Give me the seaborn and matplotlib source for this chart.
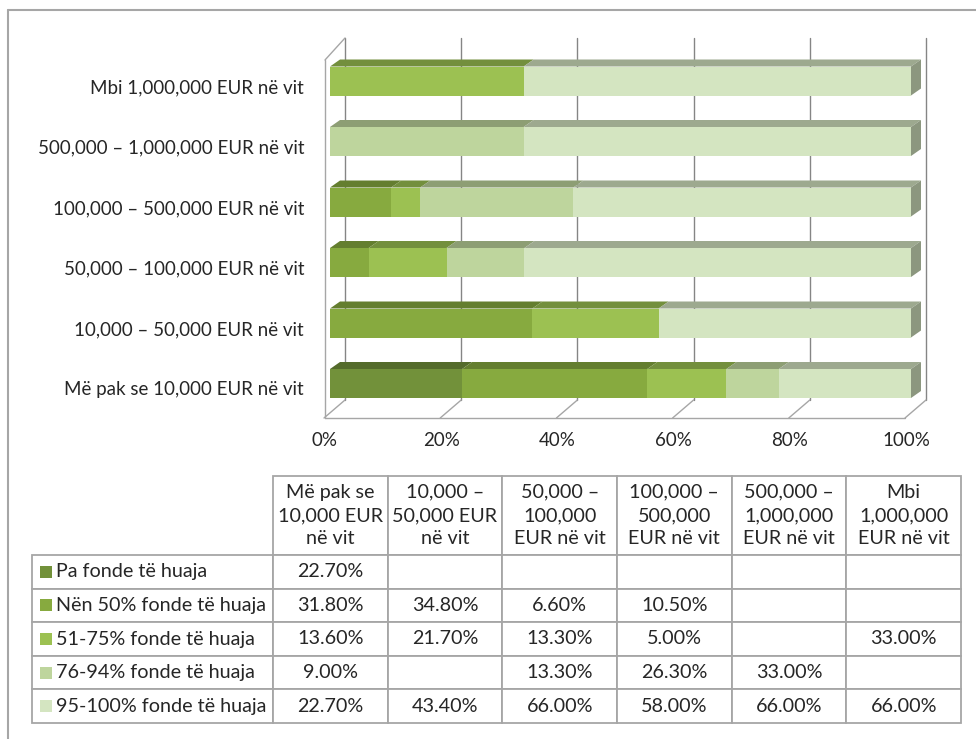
import numpy as np
import pandas as pd
import matplotlib
matplotlib.use("Agg")
import matplotlib.pyplot as plt
import matplotlib.colors as mcolors
import seaborn as sns
from matplotlib.patches import Polygon, Rectangle
from matplotlib.lines import Line2D
from matplotlib.table import Table
from matplotlib.transforms import ScaledTranslation

# data (table order, left to right)
categories = ["Më pak se 10,000 EUR në vit", "10,000 – 50,000 EUR në vit",
              "50,000 – 100,000 EUR në vit", "100,000 – 500,000 EUR në vit",
              "500,000 – 1,000,000 EUR në vit", "Mbi 1,000,000 EUR në vit"]
col_headers = ["Më pak se\n10,000 EUR\nnë vit", "10,000 –\n50,000 EUR\nnë vit",
               "50,000 –\n100,000\nEUR në vit", "100,000 –\n500,000\nEUR në vit",
               "500,000 –\n1,000,000\nEUR në vit", "Mbi\n1,000,000\nEUR në vit"]
series_names = ["Pa fonde të huaja", "Nën 50% fonde të huaja", "51-75% fonde të huaja",
                "76-94% fonde të huaja", "95-100% fonde të huaja"]
pa_fonde = [22.7, None, None, None, None, None]
nen_50 = [31.8, 34.8, 6.6, 10.5, None, None]
p51_75 = [13.6, 21.7, 13.3, 5.0, None, 33.0]
p76_94 = [9.0, None, 13.3, 26.3, 33.0, None]
p95_100 = [22.7, 43.4, 66.0, 58.0, 66.0, 66.0]
x_ticks = [0, 20, 40, 60, 80, 100]

colors = ["#72913a", "#87aa3f", "#9cc152", "#bed59d", "#d4e5c1"]
TEXT = "#262626"
GRID = "#858585"
FLOOR = "#a6a6a6"

series_vals = [pa_fonde, nen_50, p51_75, p76_94, p95_100]
df = pd.DataFrame(dict(zip(series_names, series_vals)), index=categories).astype(float)
shares = df.fillna(0)
norm = shares.div(shares.sum(axis=1), axis=0) * 100   # 100% stacked
cum = norm.cumsum(axis=1)
plot_order = categories[::-1]   # "Mbi ..." on top

sns.set_style("white")
plt.rcParams["font.family"] = ["Lato", "DejaVu Sans"]
FS = 13.5
FS_TABLE = 14.2

W, H = 976, 739
fig = plt.figure(figsize=(W / 100, H / 100), dpi=100)


def fx(px):
    return px / W


def fy(py):
    return 1 - py / H


# pixel -> data helpers for the fake 3D frame
X0, PXU = 330, 5.81          # px of 0 %, px per percent
Y0, PYU = 81, 60.5           # px of first bar centre, px per category


def dx(px):
    return px / PXU


def p(py):
    return (py - Y0) / PYU


BAR_H = 29 / PYU
DX, DY = dx(10), 7 / PYU

ax = fig.add_axes([fx(320), fy(420), fx(940) - fx(320), fy(36) - fy(420)])

for k in reversed(range(len(series_names))):
    sns.barplot(x=cum.iloc[:, k].reindex(plot_order).values, y=plot_order, order=plot_order,
                orient="h", color=colors[k], saturation=1, width=BAR_H, linewidth=0,
                errorbar=None, ax=ax, zorder=2)


def shade(c, f):
    return tuple(np.clip(np.array(mcolors.to_rgb(c)) * f, 0, 1))


# top faces and end caps
for i, cat in enumerate(plot_order):
    top = i - BAR_H / 2
    left = 0.0
    for k in range(len(series_names)):
        w = norm.loc[cat].iloc[k]
        if w > 0:
            ax.add_patch(Polygon([(left, top), (left + w, top), (left + w + DX, top - DY),
                                  (left + DX, top - DY)], closed=True,
                                 fc=shade(colors[k], 0.74), ec="none", zorder=2, clip_on=False))
        left += w
    ax.add_patch(Polygon([(left, top), (left + DX, top - DY), (left + DX, top + BAR_H - DY),
                          (left, top + BAR_H)], closed=True,
                         fc=shade(colors[-1], 0.66), ec="none", zorder=2, clip_on=False))

# back gridlines, floor and left wall
for v in x_ticks:
    ax.plot([v + dx(15)] * 2, [p(400), p(38)], color=GRID, lw=1, zorder=0.5, clip_on=False)
    ax.plot([v + dx(15), v - dx(6)], [p(400), p(418)], color=FLOOR, lw=1, zorder=0.5,
            clip_on=False)
ax.plot([-dx(5), x_ticks[-1] - dx(6)], [p(418)] * 2, color=FLOOR, lw=1, zorder=0.5, clip_on=False)
ax.plot([-dx(5)] * 2, [p(418), p(60)], color=FLOOR, lw=1, zorder=0.5, clip_on=False)
ax.plot([-dx(5), dx(15)], [p(60), p(38)], color=FLOOR, lw=1, zorder=0.5, clip_on=False)

ax.set_xlim(dx(320 - X0), dx(940 - X0))
ax.set_ylim(p(420), p(36))
ax.set_xticks(x_ticks)
ax.set_xticklabels([f"{v}%" for v in x_ticks], fontsize=FS, color=TEXT)
ax.set_yticks(range(len(plot_order)))
ax.set_yticklabels(plot_order, fontsize=FS, color=TEXT)
ax.tick_params(axis="x", length=0, pad=9)
ax.tick_params(axis="y", length=0, pad=11.5)
ax.set_xlabel("")
ax.set_ylabel("")
for s in ax.spines.values():
    s.set_visible(False)
for lbl in ax.get_xticklabels():
    lbl.set_transform(lbl.get_transform() + ScaledTranslation(-5 / 100, 0, fig.dpi_scale_trans))
for lbl in ax.get_yticklabels():
    lbl.set_transform(lbl.get_transform() + ScaledTranslation(0, -5 / 100, fig.dpi_scale_trans))

# data table
TL, TR, TT, TB = 32, 961, 476, 723
HEAD_H, ROW_H = 79, 33.6
LABEL_W = 273 - TL
DATA_W = (TR - 273) / 6
ax_t = fig.add_axes([fx(TL), fy(TB), fx(TR) - fx(TL), fy(TT) - fy(TB)])
ax_t.axis("off")


def fmt(v):
    return "" if v is None else f"{v:.2f}%"


tbl = Table(ax_t, bbox=[0, 0, 1, 1])
corner = tbl.add_cell(0, 0, LABEL_W, HEAD_H, text="", loc="center")
corner.visible_edges = "open"
for c, h in enumerate(col_headers):
    cell = tbl.add_cell(0, c + 1, DATA_W, HEAD_H, text=h, loc="center")
    cell.get_text().set_linespacing(1.45)
for r, (name, vals) in enumerate(zip(series_names, series_vals)):
    tbl.add_cell(r + 1, 0, LABEL_W, ROW_H, text=name, loc="left")
    for c, v in enumerate(vals):
        tbl.add_cell(r + 1, c + 1, DATA_W, ROW_H, text=fmt(v), loc="center")
tbl.auto_set_font_size(False)
tbl.set_fontsize(FS_TABLE)
for (r, c), cell in tbl.get_celld().items():
    cell.set_edgecolor("#a6a6a6")
    cell.set_linewidth(1.3)
    cell.get_text().set_color(TEXT)
ax_t.add_table(tbl)

# legend keys in the row label cells
for r in range(len(series_names)):
    cy = TT + HEAD_H + ROW_H * (r + 0.5)
    fig.add_artist(Rectangle((fx(40), fy(cy + 6)), 12 / W, 12 / H, transform=fig.transFigure,
                             fc=colors[r], ec="none"))

# outer frame (top and left edges)
fig.add_artist(Line2D([fx(8), 1], [fy(10), fy(10)], transform=fig.transFigure, color="#a6a6a6", lw=1.5))
fig.add_artist(Line2D([fx(8), fx(8)], [fy(10), 0], transform=fig.transFigure, color="#a6a6a6", lw=1.5))

fig.savefig("out.png", dpi=100)
